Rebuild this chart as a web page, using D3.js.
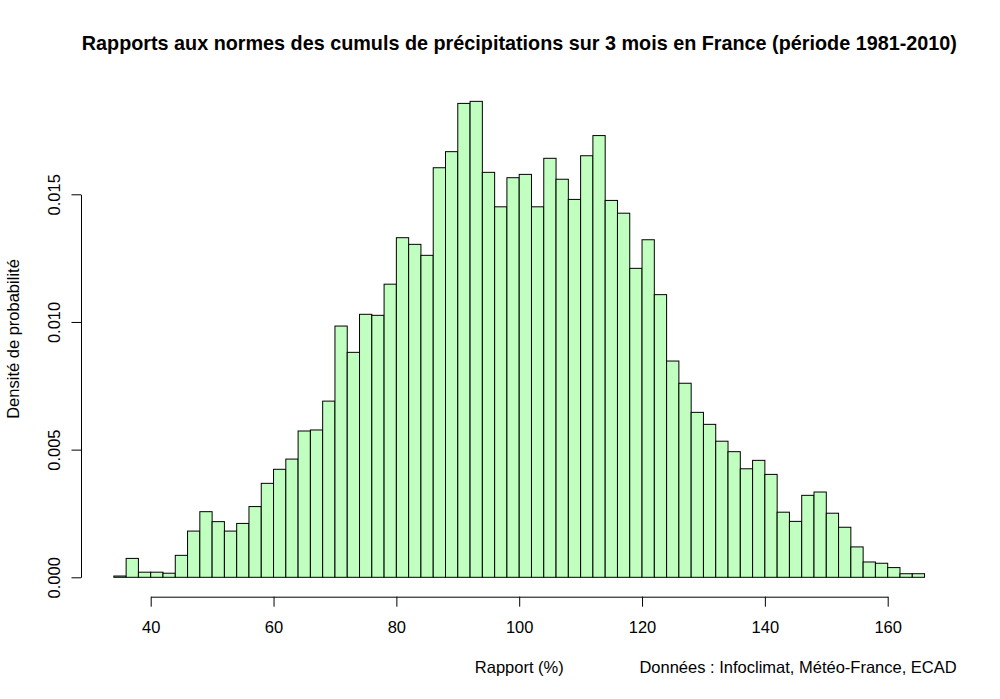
<!DOCTYPE html>
<html>
<head>
<meta charset="utf-8">
<script src="https://cdn.jsdelivr.net/npm/d3@7"></script>
<style>
  html, body { margin: 0; padding: 0; background: #fff; }
  svg { display: block; font-family: "Liberation Sans", Arial, sans-serif; }
</style>
</head>
<body>
<svg id="chart" width="1000" height="699"></svg>
<script>
// ---- Data ----
const binStarts = [34,36,38,40,42,44,46,48,50,52,54,56,58,60,62,64,66,68,70,72,74,76,78,80,82,84,86,88,90,92,94,96,98,100,102,104,106,108,110,112,114,116,118,120,122,124,126,128,130,132,134,136,138,140,142,144,146,148,150,152,154,156,158,160,162,164];
const binWidth = 2;
const densities = [0.00005,0.00074,0.0002,0.0002,0.00016,0.00086,0.00181,0.00257,0.00218,0.00181,0.00211,0.00277,0.00368,0.00423,0.00463,0.00573,0.00577,0.0069,0.00984,0.00881,0.0103,0.01026,0.01148,0.0133,0.01304,0.01261,0.01604,0.01667,0.01856,0.01864,0.01586,0.01451,0.01565,0.01578,0.01451,0.01641,0.01559,0.0148,0.01651,0.0173,0.01476,0.01426,0.0121,0.01322,0.01107,0.00847,0.0076,0.00646,0.00599,0.00533,0.00492,0.00425,0.00458,0.00403,0.00255,0.00219,0.00321,0.00334,0.00251,0.00196,0.00119,0.0006,0.00055,0.00038,0.00014,0.00014];
const xTicks = [40,60,80,100,120,140,160];
const yTicks = [0,0.005,0.010,0.015];
const yTickLabels = ["0.000","0.005","0.010","0.015"];
const titleText = "Rapports aux normes des cumuls de précipitations sur 3 mois en France (période 1981-2010)";
const xLabel = "Rapport (%)";
const yLabel = "Densité de probabilité";
const sourceText = "Données : Infoclimat, Météo-France, ECAD";

// ---- Layout ----
const svg = d3.select("#chart");
const x = d3.scaleLinear().domain([40, 160]).range([150.7, 887.7]);
const y = d3.scaleLinear().domain([0, 0.015]).range([577.3, 194.3]);
const fontSize = 16.5;

// Bars
const bins = binStarts.map((s, i) => ({x0: s, x1: s + binWidth, v: densities[i]}));
svg.append("g")
  .selectAll("rect")
  .data(bins)
  .join("rect")
  .attr("x", d => x(d.x0))
  .attr("width", d => x(d.x1) - x(d.x0))
  .attr("y", d => y(d.v))
  .attr("height", d => y(0) - y(d.v))
  .attr("fill", "#c1ffc1")
  .attr("stroke", "#000")
  .attr("stroke-width", 1);

// X axis
const xAxis = d3.axisBottom(x).tickValues(xTicks).tickSizeOuter(0).tickSizeInner(10).tickFormat(d3.format("d"));
const gx = svg.append("g").attr("transform", "translate(0,596.7)").call(xAxis);
gx.select(".domain").attr("stroke", "#000");
gx.selectAll(".tick line").attr("stroke", "#000");
gx.selectAll(".tick text")
  .attr("y", 36.6).attr("dy", null)
  .attr("font-size", fontSize).attr("font-family", "Liberation Sans, Arial, sans-serif").attr("fill", "#000");

// Y axis
const yAxis = d3.axisLeft(y).tickValues(yTicks).tickSizeOuter(0).tickSizeInner(9.5)
  .tickFormat((d, i) => yTickLabels[i]);
const gy = svg.append("g").attr("transform", "translate(81,0)").call(yAxis);
gy.select(".domain").attr("stroke", "#000");
gy.selectAll(".tick line").attr("stroke", "#000");
gy.selectAll(".tick text")
  .attr("x", null).attr("dy", null)
  .attr("transform", "translate(-21,0) rotate(-90)")
  .attr("text-anchor", "middle")
  .attr("y", 0)
  .attr("font-size", fontSize).attr("font-family", "Liberation Sans, Arial, sans-serif").attr("fill", "#000");

// Title
svg.append("text")
  .attr("x", 519.3).attr("y", 50)
  .attr("text-anchor", "middle")
  .attr("font-size", 19.8).attr("font-weight", "bold")
  .attr("fill", "#000")
  .text(titleText);

// X label
svg.append("text")
  .attr("x", 519.3).attr("y", 673)
  .attr("text-anchor", "middle")
  .attr("font-size", fontSize)
  .text(xLabel);

// Source
svg.append("text")
  .attr("x", 956.7).attr("y", 673)
  .attr("text-anchor", "end")
  .attr("font-size", fontSize)
  .text(sourceText);

// Y label
svg.append("text")
  .attr("transform", "translate(18.5,339) rotate(-90)")
  .attr("text-anchor", "middle")
  .attr("font-size", fontSize)
  .text(yLabel);
</script>
</body>
</html>
